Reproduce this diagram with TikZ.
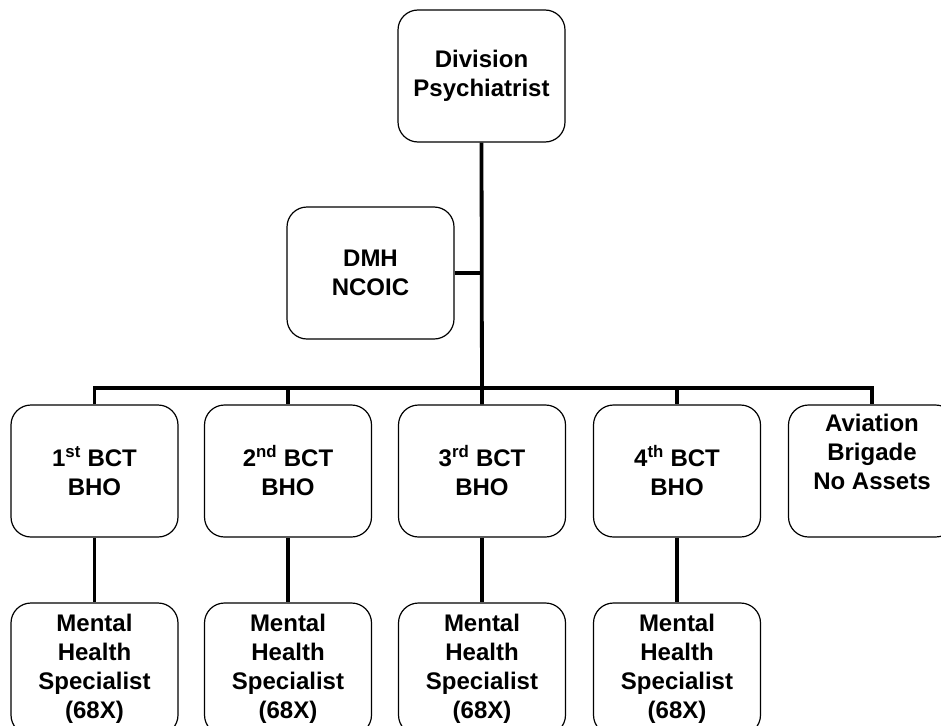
\documentclass[tikz,border=0pt]{standalone}
\usepackage{fontspec}
\setmainfont{Liberation Sans}
\usepackage{tikz}

\tikzset{
  unit/.style={draw, line width=1.2pt, rounded corners=20pt, minimum width=167pt, minimum height=132pt,
    align=center, font=\fontsize{24}{29}\selectfont\bfseries},
  link/.style={line width=3.8pt}
}

\begin{document}
\begin{tikzpicture}[x=1pt, y=-1pt]
    \useasboundingbox (0,0) rectangle (941,725);

    % Top of the chart
    \node[unit] (div) at (481.5,76) {Division\\Psychiatrist};
    \node[unit] (dmh) at (370.5,273) {DMH\\NCOIC};

    % Brigade level
    \node[unit] (bct1) at (94.5,471) {1\textsuperscript{st} BCT\\BHO};
    \node[unit] (bct2) at (288,471) {2\textsuperscript{nd} BCT\\BHO};
    \node[unit] (bct3) at (482,471) {3\textsuperscript{rd} BCT\\BHO};
    \node[unit] (bct4) at (677,471) {4\textsuperscript{th} BCT\\BHO};
    \node[unit] (avn) at (872,471) {Aviation\\Brigade\\No Assets\\ \strut};

    % Specialists
    \node[unit] (mhs1) at (94.5,669) {Mental\\Health\\Specialist\\(68X)};
    \node[unit] (mhs2) at (288,669) {Mental\\Health\\Specialist\\(68X)};
    \node[unit] (mhs3) at (482,669) {Mental\\Health\\Specialist\\(68X)};
    \node[unit] (mhs4) at (677,669) {Mental\\Health\\Specialist\\(68X)};

    % Lines
    \coordinate (bus) at (0,388);
    \draw[link] (div.south) -- (bct3.north);
    \draw[link] (dmh.east) -- (dmh.east -| div.south);
    \draw[link] (bct1.north) -- (bct1.north |- bus) -- (avn.north |- bus) -- (avn.north);
    \draw[link] (bct2.north |- bus) -- (bct2.north);
    \draw[link] (bct4.north |- bus) -- (bct4.north);
    \draw[link] (bct1) -- (mhs1);
    \draw[link] (bct2) -- (mhs2);
    \draw[link] (bct3) -- (mhs3);
    \draw[link] (bct4) -- (mhs4);
\end{tikzpicture}
\end{document}
